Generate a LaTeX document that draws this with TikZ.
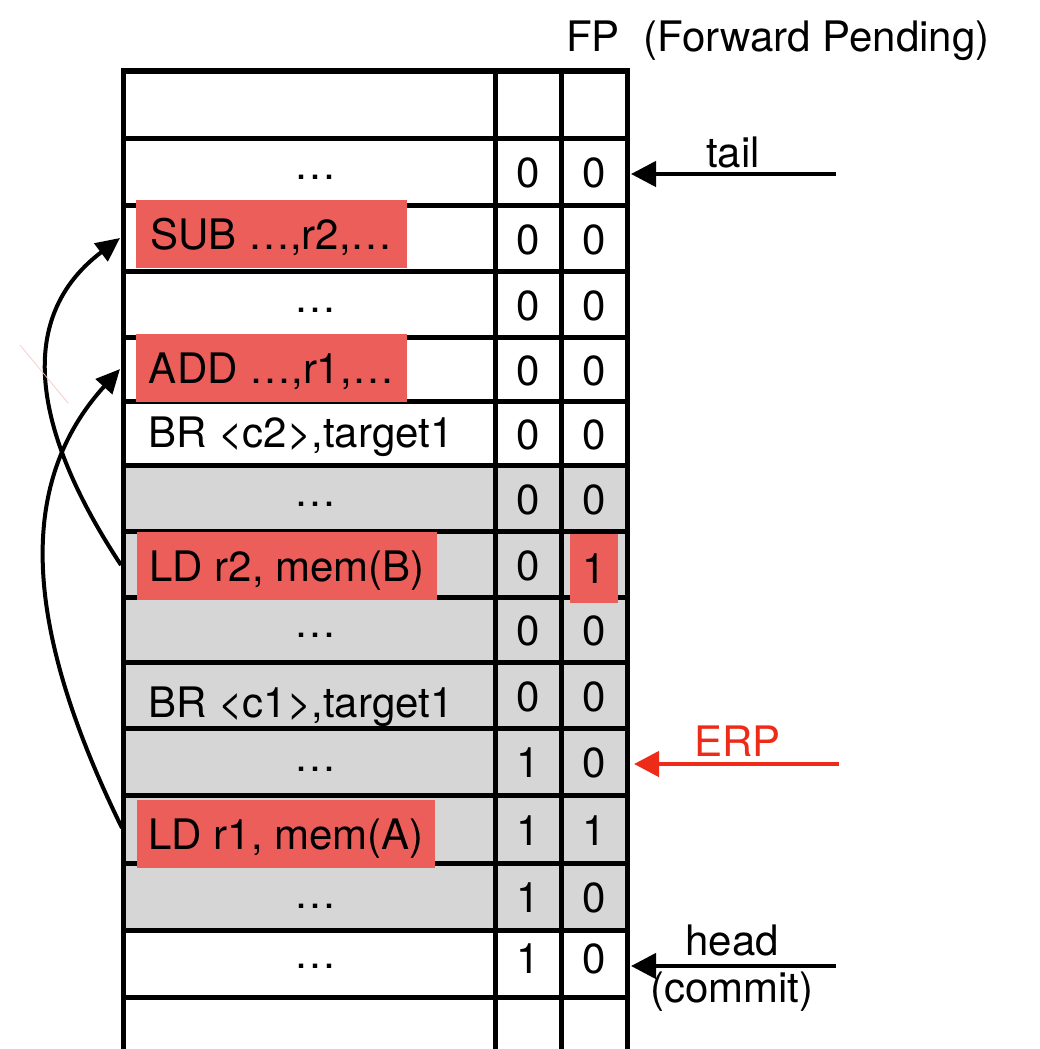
\documentclass[tikz,border=0pt]{standalone}
\usepackage{fontspec}
\setmainfont{TeX Gyre Heros}
\usetikzlibrary{arrows.meta}
\definecolor{hl}{RGB}{235,94,89}
\definecolor{cellgray}{RGB}{214,214,214}
\definecolor{erpred}{RGB}{238,42,24}

\begin{document}
\begin{tikzpicture}[x=1pt,y=-1pt,
  grid/.style={line width=5pt},
  txt/.style={font=\fontsize{42}{47}\selectfont, inner sep=0pt,
              text height=30pt, text depth=0pt},
  hlbox/.style={txt, fill=hl, minimum height=68pt},
  ptr/.style={line width=4.5pt, -{Triangle[length=25pt,width=25pt]}},
  dep/.style={line width=4pt, -{Triangle[length=24pt,width=22pt]}}]
\useasboundingbox (0,0) rectangle (1039,1049);

% shaded part of the buffer
\fill[cellgray] (123,465) rectangle (627,930);

% table grid
\draw[grid] (120.5,71) -- (629.5,71);
\foreach \x in {123,495,561,627}
  \draw[grid] (\x,68.5) -- (\x,1049);
\foreach \y in {138,205,271,337,401,465,531,597,662,728,795,863,930,997}
  \draw[grid] (123,\y) -- (627,\y);

% header
\node[txt] (fp) at (593,37) {FP};
\node[txt, anchor=west] (fpname) at (643,37) {(Forward Pending)};

% instruction column
\node[txt] (i1)  at (315,164.5) {…};
\node[hlbox, minimum width=271pt] (sub) at (271.5,234) {SUB …,r2,…};
\node[txt] (i3)  at (315,297) {…};
\node[hlbox, minimum width=271pt] (add) at (271.5,368) {ADD …,r1,…};
\node[txt, anchor=west] (br2) at (148,432.5) {BR <c2>,target1};
\node[txt] (i6)  at (315,491) {…};
\node[hlbox, minimum width=300pt] (ldb) at (287,566) {LD r2, mem(B)};
\node[txt] (i8)  at (315,622.5) {…};
\node[txt, anchor=west] (br1) at (148,702) {BR <c1>,target1};
\node[txt] (i10) at (315,756) {…};
\node[hlbox, minimum width=298pt] (lda) at (286,834) {LD r1, mem(A)};
\node[txt] (i12) at (315,893) {…};
\node[txt] (i13) at (315,953) {…};

% first flag column
\foreach \v/\y [count=\k] in {0/172.5,0/239,0/305,0/370,0/434,0/499,0/565,
                              0/630.5,0/696,1/762.5,1/830,1/897.5,1/958.5}
  \node[txt] (a\k) at (528,\y) {\v};

% FP column
\foreach \v/\y [count=\k] in {0/172.5,0/239,0/305,0/370,0/434,0/499}
  \node[txt] (b\k) at (594,\y) {\v};
\node[hlbox, minimum width=48pt, minimum height=69pt] (b7) at (594,568.5) {1};
\foreach \v/\y [count=\k from 8] in {0/630.5,0/696,0/762.5,1/830,0/897.5,0/958.5}
  \node[txt] (b\k) at (594,\y) {\v};

% pointers
\node[txt] (taillbl) at (733,152) {tail};
\coordinate (tailsrc) at (836,174);
\coordinate (tailtip) at (631,174);
\draw[ptr] (tailsrc) -- (tailtip);

\node[txt, text=erpred] (erplbl) at (737.5,741) {ERP};
\coordinate (erpsrc) at (839,764);
\coordinate (erptip) at (634,764);
\draw[ptr, draw=erpred, fill=erpred] (erpsrc) -- (erptip);

\node[txt] (headlbl) at (732,940) {head};
\node[txt] (commitlbl) at (732,987) {(commit)};
\coordinate (headsrc) at (836,966);
\coordinate (headtip) at (631,966);
\draw[ptr] (headsrc) -- (headtip);

% dependence arrows
\coordinate (ldbsrc) at (121,565);
\coordinate (subdst) at (120,238);
\coordinate (ldasrc) at (122,828);
\coordinate (adddst) at (120,369);
\draw[dep] (ldbsrc) .. controls (45,450) and (5,325) .. (subdst);
\draw[dep] (ldasrc) .. controls (30,640) and (10,490) .. (adddst);

% faint stray stroke
\draw[hl!35, line width=0.7pt] (20,345) -- (68,403);
\end{tikzpicture}
\end{document}
